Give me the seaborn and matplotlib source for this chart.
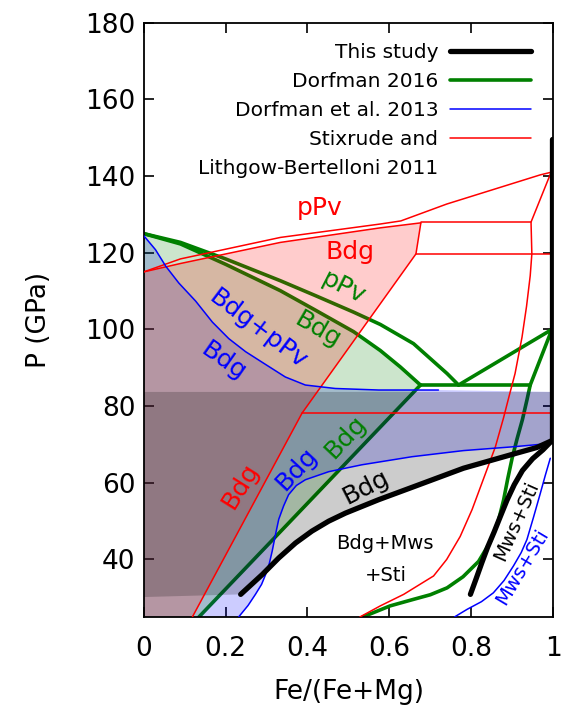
import numpy as np
import seaborn as sns
import matplotlib
matplotlib.use("Agg")
import matplotlib.pyplot as plt
from matplotlib.lines import Line2D

# ---- Stixrude and Lithgow-Bertelloni 2011 (red) ----
stx_bdg_top_x = [0.0, 0.09, 0.334, 0.578, 0.677]
stx_bdg_top_p = [115.0, 117.2, 122.7, 126.5, 127.8]
stx_ppv_x = [0.0, 0.09, 0.334, 0.578, 0.628, 0.74, 0.968, 0.995]
stx_ppv_p = [115.0, 118.4, 124.0, 127.5, 128.3, 132.7, 140.3, 141.0]
stx_edge_x = [0.677, 0.665, 0.387, 0.119]
stx_edge_p = [127.8, 119.7, 78.2, 25.0]
stx_mws_x = [0.995, 0.946, 0.948, 0.944, 0.935, 0.924, 0.907, 0.891, 0.879,
             0.859, 0.826, 0.802, 0.773, 0.74, 0.708, 0.635, 0.578, 0.528]
stx_mws_p = [141.0, 128.0, 119.7, 114.0, 106.0, 98.0, 88.5, 82.0, 77.0,
             69.4, 59.9, 53.0, 46.0, 40.0, 35.7, 30.9, 27.9, 25.0]
stx_tie_p = [128.0, 119.7, 78.2]
stx_tie_x0 = [0.677, 0.665, 0.387]
stx_tie_x1 = [0.946, 1.0, 1.0]

# ---- Dorfman 2016 (green) ----
d16_bdg_x = [0.0, 0.09, 0.2, 0.334, 0.42, 0.513, 0.578, 0.627, 0.676]
d16_bdg_p = [125.0, 122.3, 117.0, 110.1, 105.0, 99.4, 94.5, 90.2, 85.5]
d16_ppv_x = [0.0, 0.09, 0.2, 0.334, 0.42, 0.513, 0.578, 0.659, 0.70,
             0.741, 0.769]
d16_ppv_p = [125.0, 122.7, 118.4, 112.7, 108.8, 104.5, 101.3, 96.3, 92.4,
             88.5, 85.5]
d16_low_x = [0.135, 0.676]
d16_low_p = [25.0, 85.5]
d16_tie_x = [0.676, 0.944]
d16_tie_p = [85.5, 85.5]
d16_fe1_x = [0.769, 0.997, 0.944]
d16_fe1_p = [85.5, 100.0, 85.5]
d16_mws_x = [0.944, 0.936, 0.925, 0.912, 0.900, 0.889, 0.879, 0.866, 0.846,
             0.818, 0.78, 0.741, 0.70, 0.659, 0.602, 0.535]
d16_mws_p = [85.5, 81.6, 76.5, 71.5, 66.5, 61.0, 55.5, 50.0, 44.5,
             39.5, 35.5, 32.6, 30.8, 29.6, 27.9, 25.0]

# ---- Dorfman et al. 2013 (blue) ----
d13_top_x = [0.0, 0.029, 0.054, 0.086, 0.127, 0.168, 0.208, 0.249, 0.29,
             0.346, 0.395, 0.468, 0.574, 0.72]
d13_top_p = [124.5, 120.8, 116.5, 112.1, 107.4, 101.9, 97.6, 94.2, 91.4,
             87.6, 85.5, 84.6, 84.2, 84.2]
d13_low_x = [0.232, 0.255, 0.273, 0.288, 0.298, 0.307, 0.314, 0.322, 0.33,
             0.342, 0.354, 0.373, 0.395, 0.452, 0.533, 0.655, 0.781, 0.903, 0.997]
d13_low_p = [25.0, 28.0, 30.9, 33.5, 36.1, 39.0, 42.2, 46.5, 50.5,
             54.0, 56.9, 59.3, 60.8, 62.9, 64.7, 66.8, 68.4, 69.4, 70.3]
d13_mws_x = [0.759, 0.79, 0.825, 0.854, 0.88, 0.903, 0.922, 0.936, 0.952,
             0.968, 0.981, 0.993]
d13_mws_p = [25.0, 27.0, 29.0, 31.3, 34.5, 38.3, 41.8, 45.2, 51.0,
             57.0, 62.0, 66.4]

# ---- This study (black) ----
ts_bdg_x = [0.237, 0.29, 0.33, 0.371, 0.411, 0.452, 0.493, 0.574, 0.655,
            0.781, 0.903, 0.96, 0.997]
ts_bdg_p = [30.9, 36.1, 40.4, 44.3, 47.4, 50.0, 52.1, 55.6, 58.8,
            63.8, 67.5, 69.2, 71.0]
ts_mws_x = [0.798, 0.812, 0.826, 0.84, 0.856, 0.871, 0.887, 0.905, 0.925,
            0.95, 0.975, 0.997]
ts_mws_p = [30.9, 35.0, 39.2, 43.2, 47.2, 51.2, 55.4, 59.5, 63.2,
            66.3, 68.6, 71.0]
ts_fe_x = [0.997, 0.997]
ts_fe_p = [71.0, 149.6]
ts_p_range = [30.2, 83.7]

P_MIN, P_MAX = 25.0, 180.0

legend_labels = ["This study", "Dorfman 2016", "Dorfman et al. 2013",
                 "Stixrude and", "Lithgow-Bertelloni 2011"]

sns.set_theme(style="ticks")
plt.rcParams["font.family"] = ["DejaVu Sans"]
plt.rcParams["text.color"] = "black"
plt.rcParams["axes.labelcolor"] = "black"

fig = plt.figure(figsize=(5.61, 7.10), dpi=100)
ax = fig.add_axes([0.256, 0.131, 0.730, 0.837])


def curve(xs, ps, color, lw, z):
    sns.lineplot(x=xs, y=ps, sort=False, estimator=None, color=color,
                 linewidth=lw, ax=ax, zorder=z, legend=False)


# shaded stability fields (blue, green, red, then the grey band of this study)
blue_poly_x = d13_top_x + [1.0, 1.0] + d13_low_x[::-1] + [0.0]
blue_poly_p = d13_top_p + [ts_p_range[1], d13_low_p[-1]] + d13_low_p[::-1] + [P_MIN]
ax.fill(blue_poly_x, blue_poly_p, color="blue", alpha=0.2, lw=0, zorder=2)

green_poly_x = d16_bdg_x + d16_low_x[::-1] + [0.0]
green_poly_p = d16_bdg_p + d16_low_p[::-1] + [P_MIN]
ax.fill(green_poly_x, green_poly_p, color="green", alpha=0.2, lw=0, zorder=2)

red_poly_x = [0.0] + stx_bdg_top_x + stx_edge_x[1:] + [0.0]
red_poly_p = [stx_bdg_top_p[0]] + stx_bdg_top_p + stx_edge_p[1:] + [P_MIN]
ax.fill(red_poly_x, red_poly_p, color="red", alpha=0.2, lw=0, zorder=2)

gray_poly_x = [0.0] + ts_bdg_x + [1.0, 1.0, 0.0]
gray_poly_p = [ts_p_range[0]] + ts_bdg_p + [ts_bdg_p[-1], ts_p_range[1], ts_p_range[1]]
ax.fill(gray_poly_x, gray_poly_p, color="black", alpha=0.2, lw=0, zorder=2)

# Dorfman 2016 lines (under the shading)
for xs, ps in [(d16_bdg_x, d16_bdg_p), (d16_ppv_x, d16_ppv_p),
               (d16_low_x, d16_low_p), (d16_tie_x, d16_tie_p),
               (d16_fe1_x, d16_fe1_p), (d16_mws_x, d16_mws_p)]:
    curve(xs, ps, "green", 2.6, 1)

# Stixrude lines
for xs, ps in [(stx_bdg_top_x, stx_bdg_top_p), (stx_ppv_x, stx_ppv_p),
               (stx_edge_x, stx_edge_p), (stx_mws_x, stx_mws_p)]:
    curve(xs, ps, "red", 1.1, 3)
for p, x0, x1 in zip(stx_tie_p, stx_tie_x0, stx_tie_x1):
    curve([x0, x1], [p, p], "red", 1.1, 3)

# Dorfman 2013 lines
for xs, ps in [(d13_top_x, d13_top_p), (d13_low_x, d13_low_p),
               (d13_mws_x, d13_mws_p)]:
    curve(xs, ps, "blue", 1.1, 3)

# this study
for xs, ps in [(ts_bdg_x, ts_bdg_p), (ts_mws_x, ts_mws_p), (ts_fe_x, ts_fe_p)]:
    curve(xs, ps, "black", 3.8, 4)

# phase labels
notes = [
    ("pPv", 0.43, 131.8, 0, "red", 18),
    ("Bdg", 0.505, 120.3, 0, "red", 18),
    ("pPv", 0.489, 110.8, -27, "green", 18),
    ("Bdg", 0.424, 100.0, -30, "green", 18),
    ("Bdg+pPv", 0.278, 100.0, -37, "blue", 18),
    ("Bdg", 0.196, 91.7, -35, "blue", 18),
    ("Bdg", 0.237, 59.1, 58, "red", 18),
    ("Bdg", 0.372, 63.6, 47, "blue", 18),
    ("Bdg", 0.494, 71.9, 47, "green", 18),
    ("Bdg", 0.542, 58.9, 27, "black", 18),
    ("Bdg+Mws", 0.589, 44.1, 0, "black", 14),
    ("+Sti", 0.592, 35.7, 0, "black", 14),
    ("Mws+Sti", 0.91, 50.0, 66, "black", 14),
    ("Mws+Sti", 0.924, 38.0, 59, "blue", 14),
]
for txt, x, p, rot, c, fs in notes:
    ax.text(x, p, txt, color=c, fontsize=fs, rotation=rot, ha="center",
            va="center", rotation_mode="anchor", zorder=6)

# legend
handles = [
    Line2D([], [], color="black", lw=3.8),
    Line2D([], [], color="green", lw=2.6),
    Line2D([], [], color="blue", lw=1.1),
    Line2D([], [], color="red", lw=1.1),
    Line2D([], [], color="none", lw=0),
]
ax.legend(handles, legend_labels, loc="upper right", bbox_to_anchor=(0.946, 0.966),
          frameon=False, markerfirst=False, fontsize=14.5, handlelength=4.0,
          handletextpad=0.6, labelspacing=0.5, borderpad=0, borderaxespad=0)

ax.set_xlim(0, 1)
ax.set_ylim(P_MIN, P_MAX)
ax.set_xticks([0, 0.2, 0.4, 0.6, 0.8, 1.0])
ax.set_xticklabels(["0", "0.2", "0.4", "0.6", "0.8", "1"])
ax.set_yticks(np.arange(40, 181, 20))
ax.tick_params(axis="both", direction="in", length=7, width=1.2,
               top=True, right=True, labelsize=19, colors="black")
ax.tick_params(axis="x", pad=14)
ax.tick_params(axis="y", pad=6)
for s in ax.spines.values():
    s.set_linewidth(1.3)
    s.set_color("black")
ax.set_xlabel("Fe/(Fe+Mg)", fontsize=19, labelpad=12)
ax.set_ylabel("P (GPa)", fontsize=19, labelpad=24)

fig.savefig("out.png", dpi=100)
